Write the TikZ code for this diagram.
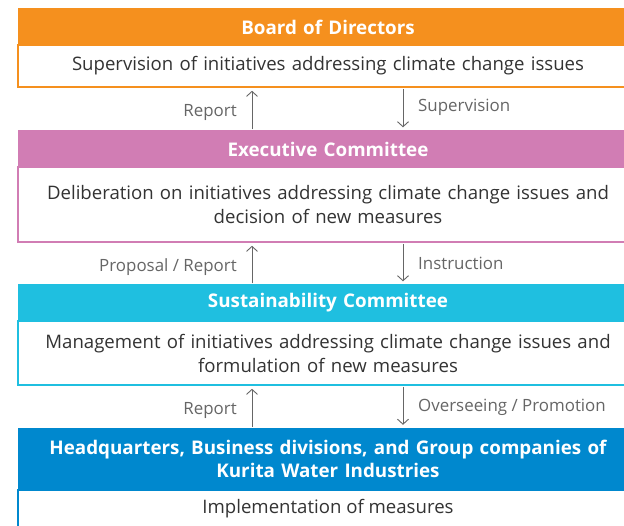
\documentclass[tikz,border=0pt]{standalone}
\usepackage{fontspec}
\setmainfont{Open Sans}
\usetikzlibrary{arrows.meta}
\definecolor{corange}{HTML}{F5901E}
\definecolor{cpink}{HTML}{D17DB4}
\definecolor{ccyan}{HTML}{1FBFE0}
\definecolor{cblue}{HTML}{0088CE}
\definecolor{ctext}{HTML}{333333}
\definecolor{cgray}{HTML}{666666}
\tikzset{
  head/.style={fill=#1, text=white, font=\fontsize{18.8}{23}\selectfont\bfseries, minimum width=620pt, inner sep=0pt, align=center, text width=610pt},
  body/.style={draw=#1, line width=1.6pt, fill=white, text=ctext, font=\fontsize{18.6}{24}\selectfont, minimum width=620pt, inner sep=0pt, align=center, text width=610pt},
  arr/.style={draw=cgray, line width=0.9pt, -{Straight Barb[length=5pt,width=11pt,line width=0.9pt]}, shorten >=3pt, shorten <=1pt},
  lbl/.style={text=cgray, font=\fontsize{16.9}{20}\selectfont, inner sep=0pt}
}
\begin{document}
\begin{tikzpicture}[x=1pt,y=-1pt]
\useasboundingbox (0,0) rectangle (624,526);
\clip (0,0) rectangle (624,526);
\fill[white] (0,0) rectangle (624,526);
\coordinate (ux) at (252,0);
\coordinate (dx) at (403,0);
% Board of Directors
\node[body=corange, minimum height=42pt] (bbody) at (328,66) {Supervision of initiatives addressing climate change issues};
\node[head=corange, minimum height=37pt] (bhead) at (328,27) {Board of Directors};
% Executive Committee
\node[body=cpink, minimum height=75pt] (ebody) at (328,204.5) {Deliberation on initiatives addressing climate change issues and\\decision of new measures};
\node[head=cpink, minimum height=37pt] (ehead) at (328,149) {Executive Committee};
% Sustainability Committee
\node[body=ccyan, minimum height=64pt] (sbody) at (328,353) {Management of initiatives addressing climate change issues and\\formulation of new measures};
\node[head=ccyan, minimum height=37pt] (shead) at (328,303) {Sustainability Committee};
% HQ
\node[body=cblue, minimum height=70pt] (hbody) at (328,525) {};
\node[lbl, text=ctext, font=\fontsize{18.6}{24}\selectfont] (htext) at (328,509) {Implementation of measures};
\node[head=cblue, minimum height=62pt] (hhead) at (328,459) {Headquarters, Business divisions, and Group companies of\\Kurita Water Industries};
% arrows level 1
\draw[arr] (ehead.north -| ux) -- (bbody.south -| ux);
\draw[arr] (bbody.south -| dx) -- (ehead.north -| dx);
\node[lbl, anchor=east] (l1) at (237,112.5) {Report};
\node[lbl, anchor=west] (l2) at (418,107.5) {Supervision};
% arrows level 2
\draw[arr] (shead.north -| ux) -- (ebody.south -| ux);
\draw[arr] (ebody.south -| dx) -- (shead.north -| dx);
\node[lbl, anchor=east] (l3) at (237,267.5) {Proposal / Report};
\node[lbl, anchor=west] (l4) at (418,263.5) {Instruction};
% arrows level 3
\draw[arr] (hhead.north -| ux) -- (sbody.south -| ux);
\draw[arr] (sbody.south -| dx) -- (hhead.north -| dx);
\node[lbl, anchor=east] (l5) at (237,410.5) {Report};
\node[lbl, anchor=west] (l6) at (418,407.5) {Overseeing / Promotion};
\end{tikzpicture}
\end{document}
